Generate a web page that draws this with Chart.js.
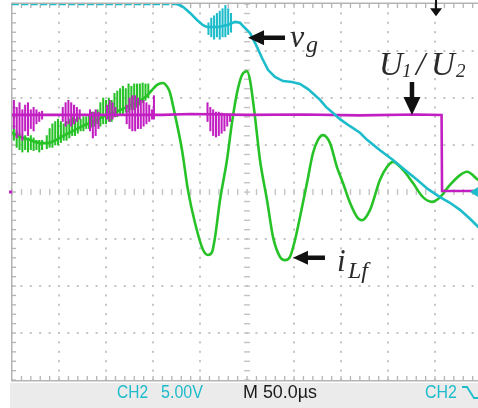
<!DOCTYPE html>
<html lang="en">

<head>
  <meta charset="UTF-8">
  <title>Grid voltage and filter current</title>
  <script src="https://cdn.jsdelivr.net/npm/chart.js"></script>
  <style>
    html,
    body {
      margin: 0;
      padding: 0;
      background: #fff;
      overflow: hidden;
    }

    /* screen is a bit wider than the window, last division is cut off */
    .scope {
      width: 482px;
      height: 408px;
    }
  </style>
</head>

<body>
  <div class="scope"><canvas id="scopeChart"></canvas></div>

  <script>
    // time in us (50 us/div, 0 = centre of screen), amplitude in divisions
    const vgTrace = [
      [-250, 4.0], [-74.5, 4.0], [-68.1, 3.94], [-60.6, 3.81], [-53.2, 3.66], [-46.8, 3.55], [-42.6, 3.51],
      [-30, 3.51], [-20, 3.56], [-12.8, 3.62], [-7.4, 3.60], [-3.2, 3.51], [3.2, 3.38], [9.6, 3.13],
      [16.0, 2.85], [22.3, 2.60], [29.8, 2.45], [38.3, 2.36], [47.9, 2.34], [56.4, 2.30], [64.9, 2.19],
      [72.3, 2.06], [77.7, 1.96], [84.0, 1.81], [91.5, 1.68], [98.9, 1.55], [109.6, 1.40], [120.2, 1.26],
      [127.7, 1.11], [141.5, 0.89], [155.3, 0.68], [168.1, 0.47], [180.9, 0.26], [192.6, 0.06],
      [205.3, -0.11], [215.9, -0.23], [226.6, -0.38], [237.2, -0.57], [245.7, -0.74], [250, -0.81]
    ];

    const iLfTrace = [
      [-250, 1.26], [-241, 1.17], [-231, 1.11], [-220, 1.04], [-212, 1.04], [-203, 1.11], [-194, 1.21],
      [-183, 1.32], [-172, 1.43], [-162, 1.51], [-151, 1.62], [-140, 1.70], [-130, 1.79], [-119, 1.89],
      [-108, 2.02], [-101, 2.17], [-95.7, 2.28], [-89.4, 2.32], [-84.0, 2.21], [-81.9, 2.11], [-76.6, 1.64],
      [-69.1, 0.89], [-62.8, 0.04], [-55.3, -0.66], [-46.8, -1.23], [-41.5, -1.34], [-37.2, -1.28],
      [-34.0, -0.96], [-28.7, -0.17], [-21.3, 0.68], [-16.0, 1.47], [-10.6, 2.11], [-5.3, 2.49], [0, 2.57],
      [3.2, 2.38], [8.5, 1.60], [13.8, 0.68], [21.3, -0.17], [27.7, -0.96], [35.1, -1.38], [40.4, -1.45],
      [45.7, -1.38], [51.1, -1.02], [56.4, -0.53], [63.8, 0.19], [70.2, 0.83], [75.5, 1.11], [80.9, 1.21],
      [88.3, 1.04], [95.7, 0.53], [102.1, 0.19], [109.6, -0.23], [117.0, -0.53], [122.3, -0.60],
      [130.9, -0.38], [141.5, 0.26], [148.9, 0.53], [155.3, 0.64], [165.9, 0.47], [176.6, 0.19],
      [187.2, -0.11], [196.8, -0.21], [205.3, -0.11], [215.9, 0.15], [226.6, 0.36], [234.0, 0.43],
      [245.7, 0.26], [250, 0.2]
    ];

    const u12Trace = [
      [-250, 1.64], [-90, 1.64], [-60, 1.66], [0, 1.64], [60, 1.65], [120, 1.63], [180, 1.65],
      [207, 1.64], [207.5, 0.02], [240, 0.02]
    ];

    // switching spikes riding on the traces: [t, low, high]
    const vgSpikes = [
      [-41, 3.35, 3.6], [-38, 3.3, 3.7], [-35, 3.25, 3.75], [-32, 3.3, 3.8], [-29, 3.25, 3.85],
      [-26, 3.3, 3.9], [-23, 3.3, 3.97], [-20, 3.35, 3.9], [-17, 3.4, 3.8]
    ];

    const iLfSpikes = [
      [-248, 1.1, 1.4], [-245, 0.95, 1.3], [-242, 0.9, 1.25], [-239, 0.85, 1.2], [-236, 0.9, 1.2],
      [-233, 0.85, 1.15], [-230, 0.9, 1.2], [-227, 0.88, 1.15], [-224, 0.9, 1.1], [-221, 0.85, 1.1],
      [-218, 0.9, 1.1], [-213, 0.92, 1.2], [-210, 0.95, 1.35], [-207, 0.95, 1.45], [-204, 1.0, 1.5],
      [-201, 1.0, 1.55], [-198, 1.05, 1.5], [-195, 1.1, 1.45], [-192, 1.1, 1.5], [-189, 1.15, 1.55],
      [-186, 1.2, 1.6], [-183, 1.2, 1.55], [-180, 1.25, 1.6], [-177, 1.3, 1.55], [-174, 1.3, 1.6],
      [-171, 1.35, 1.6], [-168, 1.35, 1.65], [-165, 1.38, 1.7], [-162, 1.4, 1.7], [-159, 1.45, 1.75],
      [-156, 1.4, 1.9], [-153, 1.45, 2.0], [-150, 1.45, 1.95], [-147, 1.5, 2.0], [-144, 1.5, 1.95],
      [-141, 1.6, 2.1], [-138, 1.6, 2.15], [-135, 1.65, 2.2], [-132, 1.65, 2.25], [-129, 1.7, 2.2],
      [-126, 1.7, 2.3], [-123, 1.75, 2.25], [-120, 1.75, 2.3], [-117, 1.8, 2.3], [-114, 1.85, 2.3],
      [-111, 1.9, 2.32], [-108, 1.95, 2.3], [-105, 2.0, 2.3]
    ];

    const u12Spikes = [
      [-248, 1.35, 1.95], [-245, 1.15, 1.8], [-242, 1.2, 1.9], [-239, 1.1, 1.75], [-236, 1.3, 1.85],
      [-233, 1.2, 1.9], [-230, 1.35, 1.75], [-227, 1.3, 1.8], [-224, 1.45, 1.75], [-221, 1.5, 1.7],
      [-218, 1.55, 1.72], [-196, 1.5, 1.8], [-193, 1.4, 1.9], [-190, 1.45, 1.95], [-187, 1.4, 1.9],
      [-184, 1.45, 1.85], [-181, 1.5, 1.8], [-178, 1.55, 1.75], [-167, 1.3, 1.75], [-164, 1.15, 1.7],
      [-161, 1.2, 1.75], [-158, 1.35, 1.7], [-149, 1.55, 1.85], [-146, 1.5, 1.95], [-143, 1.55, 1.9],
      [-140, 1.6, 1.8], [-128, 1.45, 1.85], [-125, 1.35, 2.0], [-122, 1.3, 2.05], [-119, 1.3, 2.05],
      [-116, 1.35, 2.0], [-113, 1.35, 1.95], [-110, 1.4, 1.95], [-107, 1.45, 1.9], [-104, 1.5, 1.85],
      [-101, 1.55, 1.75], [-99, 1.55, 2.05], [-42, 1.5, 1.9], [-39, 1.3, 1.8], [-36, 1.2, 1.75],
      [-33, 1.17, 1.7], [-30, 1.2, 1.7], [-27, 1.25, 1.68], [-24, 1.3, 1.66], [-21, 1.4, 1.66],
      [-18, 1.5, 1.66]
    ];

    // readout line under the screen
    const statusText = ['CH2', '5.00V', 'M 50.0\u00b5s', 'CH2'];

    const CYAN = '#1dbccb';
    const GREEN = '#27c227';
    const MAGENTA = '#c21fc2';

    const toXY = pts => pts.map(([x, y]) => ({ x, y }));
    const toBars = pts => pts.map(([x, lo, hi]) => ({ x, y: [lo, hi] }));

    // filled arrow, tip at (x0, y0), (dx, dy) points from tip towards tail
    function arrow(ctx, x0, y0, dx, dy, len, headLen, headHalf, shaft) {
      const nx = -dy, ny = dx;
      const bx = x0 + dx * headLen, by = y0 + dy * headLen;
      const ex = x0 + dx * len, ey = y0 + dy * len;
      const s = shaft / 2;
      ctx.beginPath();
      ctx.moveTo(x0, y0);
      ctx.lineTo(bx + nx * headHalf, by + ny * headHalf);
      ctx.lineTo(bx + nx * s, by + ny * s);
      ctx.lineTo(ex + nx * s, ey + ny * s);
      ctx.lineTo(ex - nx * s, ey - ny * s);
      ctx.lineTo(bx - nx * s, by - ny * s);
      ctx.lineTo(bx - nx * headHalf, by - ny * headHalf);
      ctx.closePath();
      ctx.fill();
    }

    // squeeze text horizontally into a given width
    function fitText(ctx, str, x, y, w) {
      const m = ctx.measureText(str).width;
      ctx.save();
      ctx.translate(x, y);
      ctx.scale(w / m, 1);
      ctx.fillText(str, 0, 0);
      ctx.restore();
    }

    const graticule = {
      id: 'graticule',
      beforeDatasetsDraw(chart) {
        const { ctx, chartArea: a, scales: { x, y } } = chart;
        ctx.save();

        // grey readout bar
        ctx.fillStyle = '#ebebeb';
        ctx.fillRect(a.left - 2, a.bottom + 3, chart.width, chart.height - a.bottom);

        // dotted division lines, one dot per fifth of a division
        ctx.fillStyle = '#c4c4c4';
        for (let t = -200; t <= 200; t += 50) {
          if (t === 0) continue;
          const px = x.getPixelForValue(t);
          for (let i = -20; i <= 20; i++) ctx.fillRect(px - 1, y.getPixelForValue(i / 5) - 1, 2, 2);
        }
        for (let v = -3; v <= 3; v++) {
          if (v === 0) continue;
          const py = y.getPixelForValue(v);
          for (let t = -250; t <= 250; t += 10) ctx.fillRect(x.getPixelForValue(t) - 1, py - 1, 2, 2);
        }

        // centre cross with minor ticks
        const cx = x.getPixelForValue(0), cy = y.getPixelForValue(0);
        for (let i = -20; i <= 20; i++) ctx.fillRect(cx - 3, y.getPixelForValue(i / 5) - 0.6, 6, 1.4);
        for (let t = -250; t <= 250; t += 10) ctx.fillRect(x.getPixelForValue(t) - 0.6, cy - 3, 1.4, 6);

        // frame with minor ticks
        ctx.fillStyle = '#b4b4b4';
        ctx.fillRect(a.left - 1, a.top - 1.5, 1.5, a.bottom - a.top + 3);
        ctx.fillRect(a.left, a.top - 1.5, a.right - a.left, 1.5);
        ctx.fillRect(a.left, a.bottom, a.right - a.left, 1.5);
        for (let i = -20; i <= 20; i++) ctx.fillRect(a.left, y.getPixelForValue(i / 5) - 0.6, 4, 1.3);
        for (let t = -240; t <= 250; t += 10) {
          const px = x.getPixelForValue(t);
          ctx.fillRect(px - 0.6, a.top, 1.3, 4);
          ctx.fillRect(px - 0.6, a.bottom - 4, 1.3, 4);
        }

        // CH ground marker on the left edge
        ctx.fillStyle = MAGENTA;
        ctx.fillRect(a.left - 3, cy - 1.5, 3, 3);

        // readout text
        ctx.textBaseline = 'alphabetic';
        ctx.font = '18px "Liberation Sans", Arial, sans-serif';
        const ty = a.bottom + 18;
        ctx.fillStyle = CYAN;
        fitText(ctx, statusText[0], 117, ty, 31);
        fitText(ctx, statusText[1], 161, ty, 42);
        fitText(ctx, statusText[3], 425, ty, 32);
        ctx.fillStyle = '#1a1a1a';
        fitText(ctx, statusText[2], 243, ty, 74);

        // falling-edge trigger symbol
        ctx.strokeStyle = CYAN;
        ctx.lineWidth = 1.8;
        ctx.beginPath();
        ctx.moveTo(462, ty - 11);
        ctx.lineTo(467, ty - 11);
        ctx.lineTo(474, ty);
        ctx.lineTo(482, ty);
        ctx.stroke();
        ctx.restore();
      },
      afterDatasetsDraw(chart) {
        const { ctx, scales: { x, y } } = chart;
        const P = (t, v) => [x.getPixelForValue(t), y.getPixelForValue(v)];
        ctx.save();
        ctx.fillStyle = '#111';

        // pointers
        let p = P(1.1, 3.28); arrow(ctx, p[0], p[1], 1, 0, 37, 16, 7.5, 4.5);
        p = P(175.5, 1.64); arrow(ctx, p[0], p[1], 0, -1, 33, 18, 8.5, 4.5);
        p = P(48.9, -1.40); arrow(ctx, p[0], p[1], 1, 0, 32, 15, 7, 4.5);
        p = P(201.1, 3.74); arrow(ctx, p[0], p[1], 0, -1, 17, 8, 6, 2);

        // trace names
        ctx.fillStyle = '#2a2a2a';
        const serif = '"Liberation Serif", "DejaVu Serif", serif';
        const put = (txt, t, v, size) => {
          const q = P(t, v);
          ctx.font = `italic ${size}px ${serif}`;
          ctx.fillText(txt, q[0], q[1]);
        };
        put('v', 45.7, 3.09, 32);
        put('g', 62.8, 2.98, 24);
        put('U', 140.5, 2.49, 33);
        put('1', 165.0, 2.45, 19);
        put('/', 179.8, 2.49, 33);
        put('U', 195.8, 2.49, 33);
        put('2', 222.3, 2.45, 19);
        put('i', 95.7, -1.68, 31);
        put('Lf', 107.4, -1.83, 24);

        // CH2 level marker on the right edge
        const m = P(245.7, 0);
        ctx.fillStyle = CYAN;
        ctx.beginPath();
        ctx.moveTo(m[0] - 8, m[1]);
        ctx.lineTo(m[0], m[1] - 5);
        ctx.lineTo(m[0], m[1] + 5);
        ctx.closePath();
        ctx.fill();
        ctx.restore();
      }
    };

    const spikeStyle = { type: 'bar', barThickness: 1.4, borderWidth: 0, grouped: false };

    const ctx = document.getElementById('scopeChart').getContext('2d');

    new Chart(ctx, {
      type: 'line',
      data: {
        datasets: [
          {
            label: 'v_g',
            data: toXY(vgTrace),
            borderColor: CYAN,
            borderWidth: 2.6,
            // clipped part along the top edge is shown dashed
            segment: {
              borderDash: c => (c.p0.parsed.y >= 4 && c.p1.parsed.y >= 4) ? [7, 2.4] : undefined
            }
          },
          { ...spikeStyle, label: 'v_g spikes', data: toBars(vgSpikes), backgroundColor: CYAN },
          {
            label: 'U1/U2',
            data: toXY(u12Trace),
            borderColor: MAGENTA,
            borderWidth: 2.6
          },
          { ...spikeStyle, label: 'U1/U2 spikes', data: toBars(u12Spikes), backgroundColor: MAGENTA },
          {
            label: 'i_Lf',
            data: toXY(iLfTrace),
            borderColor: GREEN,
            borderWidth: 2.6,
            cubicInterpolationMode: 'monotone'
          },
          { ...spikeStyle, label: 'i_Lf spikes', data: toBars(iLfSpikes), backgroundColor: GREEN }
        ]
      },
      options: {
        responsive: true,
        maintainAspectRatio: false,
        animation: false,
        layout: { padding: { left: 12, top: 4, right: 0, bottom: 28 } },
        elements: { point: { radius: 0 } },
        scales: {
          x: { type: 'linear', min: -250, max: 250, offset: false, display: false },
          y: { min: -4, max: 4, display: false }
        },
        plugins: {
          legend: { display: false },
          tooltip: { enabled: false }
        }
      },
      plugins: [graticule]
    });
  </script>
</body>

</html>
